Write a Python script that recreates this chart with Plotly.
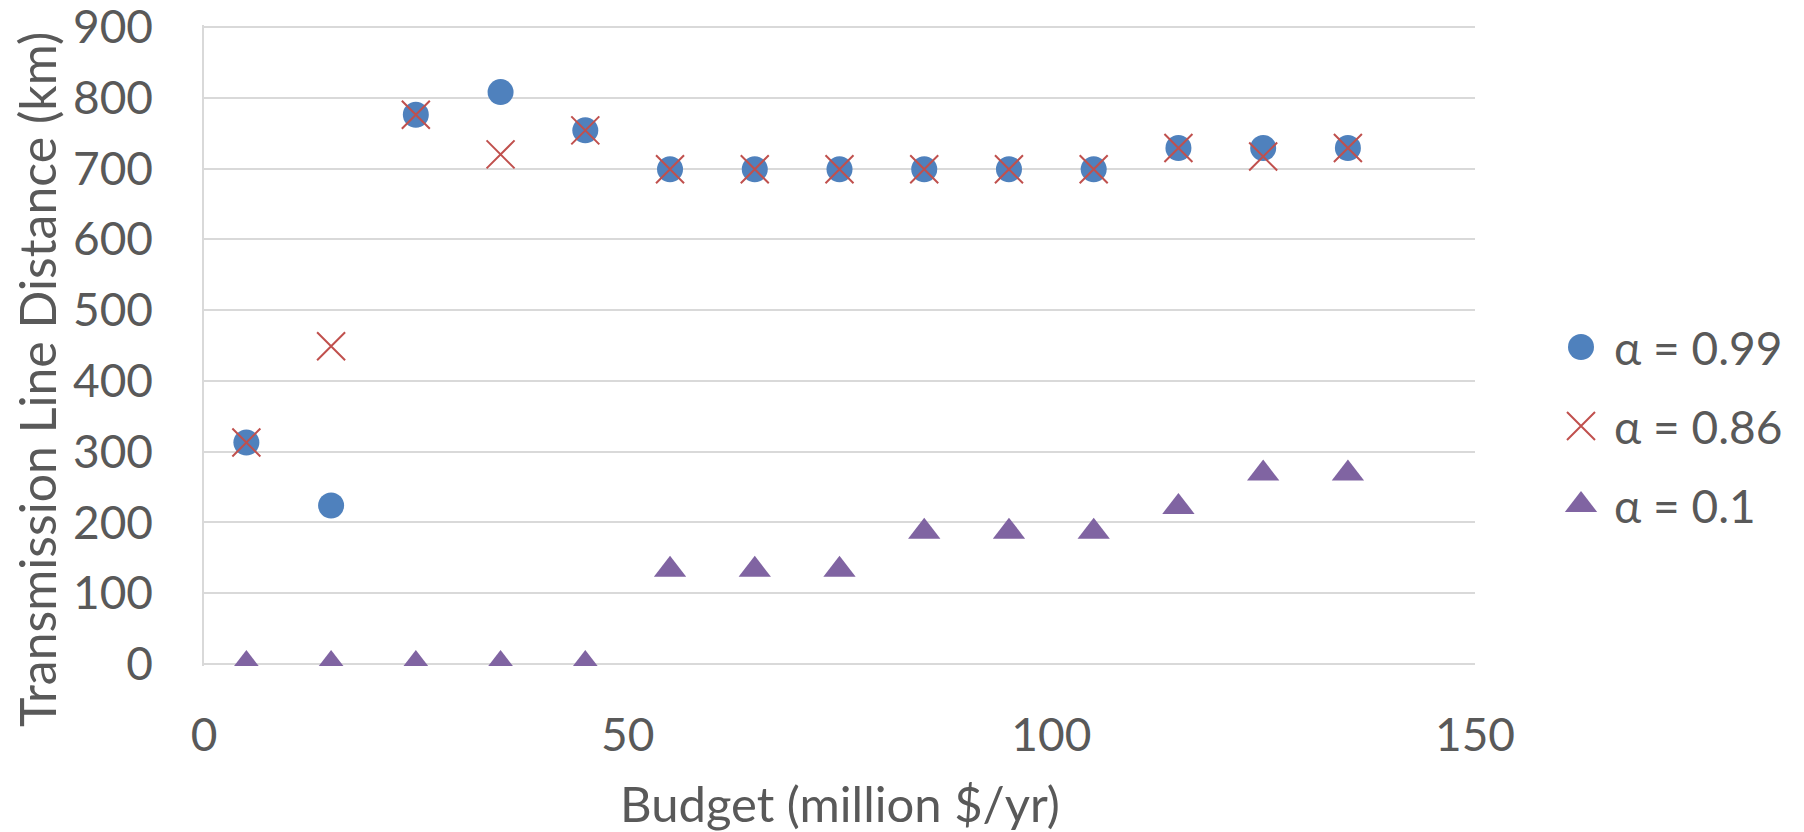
import plotly.graph_objects as go

# Annual budget (million $/yr)
budget = [5, 15, 25, 35, 45, 55, 65, 75, 85, 95, 105, 115, 125, 135]

# Transmission line distance (km) for each risk level
dist_099 = [313, 224, 776, 808, 754, 699, 699, 699, 699, 699, 699, 729, 729, 729]
dist_086 = [313, 449, 776, 720, 754, 699, 699, 699, 699, 699, 699, 729, 717, 729]
dist_010 = [0, 0, 0, 0, 0, 133, 133, 133, 187, 187, 187, 222, 269, 269]

series_names = ["α = 0.99", "α = 0.86", "α = 0.1"]
x_ticks = [0, 50, 100, 150]
y_ticks = [0, 100, 200, 300, 400, 500, 600, 700, 800, 900]

FONT = "Lato, 'Open Sans', sans-serif"
TEXT = "#595959"
GRID = "#d9d9d9"
COLORS = ["#4f81bd", "#c0504d", "#8064a2"]

# Canvas and plot-area geometry (pixels)
W, H = 1804, 832
PL, PR, PT, PB = 204, 1475, 27, 664
Y_MIN, Y_MAX = 0, 900
# Small value padding so the end gridlines (0 and 900) are not clipped away
Y_PAD = 3
px_per_unit = (PB - PT) / (Y_MAX - Y_MIN)
dom_top = PT - Y_PAD * px_per_unit
dom_bot = PB + Y_PAD * px_per_unit

# Marker styles shared by plot and legend
styles = [
    dict(symbol="circle", size=26, color=COLORS[0]),
    dict(symbol="x-thin-open", size=28, color=COLORS[1],
         line=dict(color=COLORS[1], width=2)),
    dict(symbol="triangle-up", size=28, color=COLORS[2]),
]
series = [dist_099, dist_086, dist_010]

fig = go.Figure()
for name, vals, st in zip(series_names, series, styles):
    fig.add_trace(go.Scatter(
        x=budget, y=vals, mode="markers", name=name,
        marker=st, xaxis="x", yaxis="y", showlegend=False,
        hovertemplate="%{x}, %{y}<extra>" + name + "</extra>",
    ))

# Legend keys drawn on a pixel-space overlay
LEG_X, LEG_Y0, LEG_DY, LEG_TXT = 1581, 347, 79, 31
for i, (name, st) in enumerate(zip(series_names, styles)):
    fig.add_trace(go.Scatter(
        x=[LEG_X], y=[LEG_Y0 + i * LEG_DY], mode="markers",
        marker=st, xaxis="x2", yaxis="y2", showlegend=False, hoverinfo="skip",
    ))
    fig.add_annotation(
        x=LEG_X + LEG_TXT, y=LEG_Y0 + i * LEG_DY, xref="x2", yref="y2",
        text=name, showarrow=False, xanchor="left", yanchor="middle",
        font=dict(family=FONT, size=46, color=TEXT),
    )

# Axis titles
fig.add_annotation(
    x=(PL + PR) / 2, y=803, xref="x2", yref="y2", text="Budget (million $/yr)",
    showarrow=False, xanchor="center", yanchor="middle",
    font=dict(family=FONT, size=49, color=TEXT),
)
fig.add_annotation(
    x=37, y=380, xref="x2", yref="y2", text="Transmission Line Distance (km)",
    showarrow=False, xanchor="center", yanchor="middle", textangle=-90,
    font=dict(family=FONT, size=50, color=TEXT),
)

fig.update_layout(
    width=W, height=H,
    margin=dict(l=0, r=0, t=0, b=0, pad=0, autoexpand=False),
    paper_bgcolor="white", plot_bgcolor="rgba(0,0,0,0)",
    font=dict(family=FONT, size=46, color=TEXT),
    showlegend=False,
    xaxis=dict(
        domain=[PL / W, PR / W], anchor="y",
        range=[0, 150], tickmode="array", tickvals=x_ticks,
        showgrid=False, zeroline=False, showline=False,
        ticks="", ticklabelstandoff=int(round(40 - Y_PAD * px_per_unit)),
        ticklabeloverflow="allow",
        tickfont=dict(family=FONT, size=46, color=TEXT),
        automargin=False, fixedrange=True,
    ),
    yaxis=dict(
        domain=[(H - dom_bot) / H, (H - dom_top) / H], anchor="x",
        range=[Y_MIN - Y_PAD, Y_MAX + Y_PAD], tickmode="array", tickvals=y_ticks,
        showgrid=True, gridcolor=GRID, gridwidth=1.5,
        zeroline=False,
        showline=True, linecolor=GRID, linewidth=1.5,
        ticks="", ticklabelstandoff=40, ticklabeloverflow="allow",
        tickfont=dict(family=FONT, size=46, color=TEXT),
        automargin=False, fixedrange=True,
    ),
    xaxis2=dict(domain=[0, 1], anchor="y2", range=[0, W], visible=False,
                fixedrange=True),
    yaxis2=dict(domain=[0, 1], anchor="x2", range=[H, 0], visible=False,
                fixedrange=True),
)

fig.write_html("out.html")
